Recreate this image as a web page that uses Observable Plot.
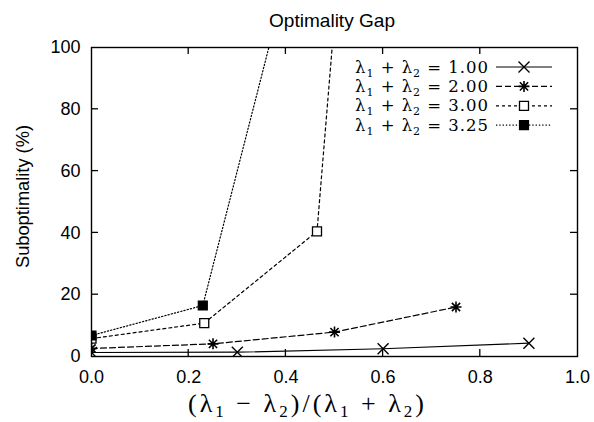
<!DOCTYPE html>
<html><head><meta charset="utf-8">
<script src="https://cdn.jsdelivr.net/npm/d3@7"></script>
<script src="https://cdn.jsdelivr.net/npm/@observablehq/plot@0.6"></script>
<style>body{margin:0;background:#fff}</style>
</head><body><div id="chart"></div>
<script>
// ---- data ----
const seriesNames = ["1.00", "2.00", "3.00", "3.25"];
const x1 = [0, 0.3, 0.6, 0.9];      const y1 = [1.3, 1.4, 2.5, 4.3];
const x2 = [0, 0.25, 0.5, 0.75];    const y2 = [2.6, 4.1, 7.9, 16.0];
const x3 = [0, 0.232, 0.464, 0.6];  const y3 = [5.8, 10.8, 40.5, 300];
const x4 = [0, 0.229, 0.5];         const y4 = [6.8, 16.5, 183];
const xTicks = [0, 0.2, 0.4, 0.6, 0.8, 1.0];
const yTicks = [0, 20, 40, 60, 80, 100];

// ---- symbols ----
const rad = s => Math.sqrt(s / Math.PI);
const symCross = {draw(c, s){const r = rad(s); c.moveTo(-r,-r); c.lineTo(r,r); c.moveTo(r,-r); c.lineTo(-r,r);}};
const symStar = {draw(c, s){const r = rad(s); const d = r*0.75; c.moveTo(-d,-d); c.lineTo(d,d); c.moveTo(d,-d); c.lineTo(-d,d); c.moveTo(0,-r); c.lineTo(0,r); c.moveTo(-r,0); c.lineTo(r,0);}};
const symSquare = {draw(c, s){const r = rad(s); c.moveTo(-r,-r); c.lineTo(r,-r); c.lineTo(r,r); c.lineTo(-r,r); c.closePath();}};

const series = [
  {name: seriesNames[0], x: x1, y: y1, dash: null,  sym: symCross,  fill: "none", r: 5.5, sw: 1.4},
  {name: seriesNames[1], x: x2, y: y2, dash: "6,3", sym: symStar,   fill: "none", r: 5.5, sw: 1.6},
  {name: seriesNames[2], x: x3, y: y3, dash: "3,3", sym: symSquare, fill: "white", r: 4.5, sw: 1.3},
  {name: seriesNames[3], x: x4, y: y4, dash: "1.3,2", sym: symSquare, fill: "black", r: 4.5, sw: 1.2}
];

const marks = [];
series.forEach(s => {
  const data = s.x.map((x, i) => ({x, y: s.y[i]}));
  marks.push(Plot.line(data, {x: "x", y: "y", stroke: "#000", strokeWidth: 1.2, strokeDasharray: s.dash, clip: true}));
});
series.forEach(s => {
  const data = s.x.map((x, i) => ({x, y: s.y[i]}));
  marks.push(Plot.dot(data, {x: "x", y: "y", symbol: s.sym, r: s.r, stroke: "#000", strokeWidth: s.sw, fill: s.fill, clip: true}));
});

const SANS = "'Liberation Sans', Arial, sans-serif";
const SERIF = "'DejaVu Serif', 'Liberation Serif', serif";
const SERIF2 = "'Liberation Serif', 'DejaVu Serif', serif";

const chart = Plot.plot({
  width: 594, height: 422,
  marginLeft: 91, marginRight: 17, marginTop: 47, marginBottom: 66,
  style: {fontFamily: SANS, fontSize: "18px", color: "#000", background: "#fff"},
  x: {domain: [0, 1]},
  y: {domain: [0, 100]},
  marks: [
    ...marks,
    Plot.frame({stroke: "#000", strokeWidth: 1.4}),
    Plot.axisX({ticks: xTicks, tickFormat: d => d.toFixed(1), tickSize: 0, tickPadding: 14, label: null, fontSize: 18}),
    Plot.axisY({ticks: yTicks, tickSize: 0, tickPadding: 11, label: null, fontSize: 18})
  ]
});
document.getElementById("chart").appendChild(chart);

const svg = d3.select(chart);
const xs = chart.scale("x"), ys = chart.scale("y");
const L = xs.apply(0), R = xs.apply(1), T = ys.apply(100), B = ys.apply(0);
const g = svg.append("g").attr("stroke", "#000").attr("stroke-width", 1.3);
xTicks.slice(1, -1).forEach(v => {
  const px = xs.apply(v);
  g.append("line").attr("x1", px).attr("x2", px).attr("y1", B).attr("y2", B - 7);
  g.append("line").attr("x1", px).attr("x2", px).attr("y1", T).attr("y2", T + 7);
});
yTicks.slice(1, -1).forEach(v => {
  const py = ys.apply(v);
  g.append("line").attr("y1", py).attr("y2", py).attr("x1", L).attr("x2", L + 7);
  g.append("line").attr("y1", py).attr("y2", py).attr("x1", R).attr("x2", R - 7);
});

// title
svg.append("text").attr("x", 332).attr("y", 27).attr("text-anchor", "middle")
  .attr("textLength", 126).attr("lengthAdjust", "spacingAndGlyphs")
  .style("font-family", SANS).style("font-size", "18.5px").text("Optimality Gap");
// y label
svg.append("text").attr("transform", `translate(29,196.5) rotate(-90)`).attr("text-anchor", "middle")
  .attr("textLength", 143).attr("lengthAdjust", "spacingAndGlyphs")
  .style("font-family", SANS).style("font-size", "18px").text("Suboptimality (%)");
// x label
const xl = svg.append("text").attr("x", 306).attr("y", 412).attr("text-anchor", "middle")
  .attr("textLength", 236).attr("lengthAdjust", "spacing")
  .style("font-family", SERIF2).style("font-size", "26px");
const sub = (t, s) => { t.append("tspan").text(s).attr("font-size", "17px").attr("dy", 5); };
xl.append("tspan").text("(λ"); sub(xl, "1"); xl.append("tspan").text(" − λ").attr("dy", -5); sub(xl, "2");
xl.append("tspan").text(")/(λ").attr("dy", -5); sub(xl, "1"); xl.append("tspan").text(" + λ").attr("dy", -5); sub(xl, "2");
xl.append("tspan").text(")").attr("dy", -5);

// legend
const legY0 = 67, legDy = 19.4;
series.forEach((s, i) => {
  const y = legY0 + i * legDy;
  const t = svg.append("text").attr("x", 488).attr("y", y + 5.5).attr("text-anchor", "end")
    .attr("textLength", 133).attr("lengthAdjust", "spacing")
    .style("font-family", SERIF).style("font-size", "16.5px");
  t.append("tspan").text("λ"); t.append("tspan").text("1").attr("font-size", "11px").attr("dy", 4);
  t.append("tspan").text(" + λ").attr("dy", -4); t.append("tspan").text("2").attr("font-size", "11px").attr("dy", 4);
  t.append("tspan").text(" = " + s.name).attr("dy", -4);
  svg.append("line").attr("x1", 496).attr("x2", 552).attr("y1", y).attr("y2", y)
    .attr("stroke", "#000").attr("stroke-width", 1.2).attr("stroke-dasharray", s.dash);
  const p = d3.path(); s.sym.draw(p, Math.PI * s.r * s.r);
  svg.append("path").attr("d", p.toString()).attr("transform", `translate(524,${y})`)
    .attr("stroke", "#000").attr("stroke-width", s.sw).attr("fill", s.fill);
});
</script>
</body></html>
